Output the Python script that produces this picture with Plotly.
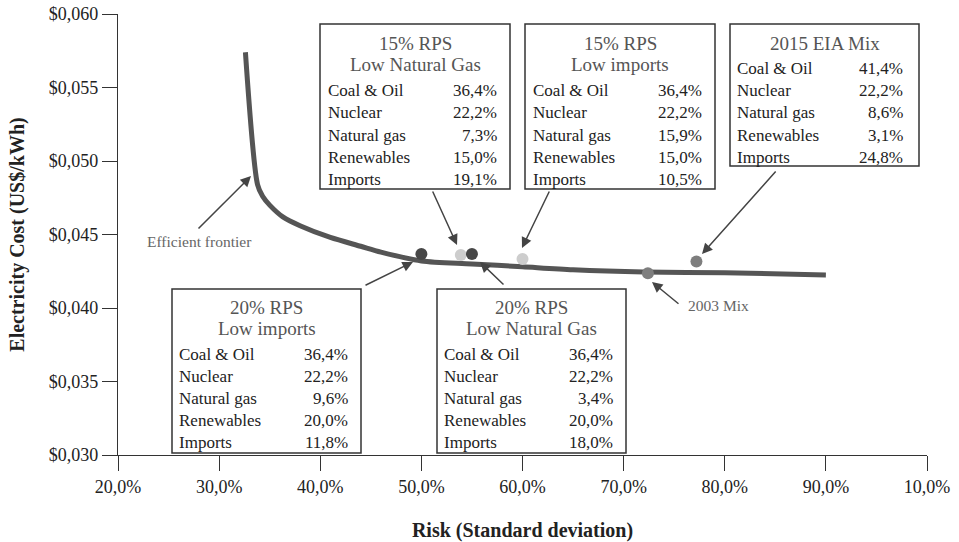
import plotly.graph_objects as go

# Efficient frontier (risk %, cost US$/kWh)
frontier_risk = [32.6, 33.8, 34.3, 35.0, 36.3, 38.0, 41.0, 44.0, 46.0, 50.0,
                 55.0, 60.0, 65.0, 72.0, 80.0, 90.0]
frontier_cost = [0.0574, 0.0484, 0.0476, 0.0470, 0.0462, 0.0456, 0.0448, 0.0442,
                 0.0438, 0.0432, 0.0430, 0.0428, 0.0426, 0.04245, 0.0424, 0.04225]

# Generation mixes
mix_names = ["20% RPS Low imports", "15% RPS Low Natural Gas", "20% RPS Low Natural Gas",
             "15% RPS Low imports", "2003 Mix", "2015 EIA Mix"]
mix_risk = [50.0, 53.9, 55.0, 60.0, 72.4, 77.2]
mix_cost = [0.04368, 0.04361, 0.04368, 0.04334, 0.04237, 0.04316]
mix_colors = ["#474747", "#cdcdcd", "#474747", "#cdcdcd", "#7e7e7e", "#7e7e7e"]

# Mix composition tables
sources = ["Coal & Oil", "Nuclear", "Natural gas", "Renewables", "Imports"]
share_15_low_gas = ["36,4%", "22,2%", "7,3%", "15,0%", "19,1%"]
share_15_low_imports = ["36,4%", "22,2%", "15,9%", "15,0%", "10,5%"]
share_2015_eia = ["41,4%", "22,2%", "8,6%", "3,1%", "24,8%"]
share_20_low_imports = ["36,4%", "22,2%", "9,6%", "20,0%", "11,8%"]
share_20_low_gas = ["36,4%", "22,2%", "3,4%", "20,0%", "18,0%"]

# Axis ticks
x_ticks = [20, 30, 40, 50, 60, 70, 80, 90, 100]
x_tick_text = ["20,0%", "30,0%", "40,0%", "50,0%", "60,0%", "70,0%", "80,0%", "90,0%", "10,0%"]
y_ticks = [0.030, 0.035, 0.040, 0.045, 0.050, 0.055, 0.060]
y_tick_text = ["$0,030", "$0,035", "$0,040", "$0,045", "$0,050", "$0,055", "$0,060"]

W, H = 959, 542
ML, MR, MT, MB = 118, 32, 14, 87
X0, X1 = 20, 100
Y0, Y1 = 0.030, 0.060
L, R, T, B = ML, W - MR, MT, H - MB


def dx(px):
    return X0 + (px - L) / (R - L) * (X1 - X0)


def dy(py):
    return Y1 - (py - T) / (B - T) * (Y1 - Y0)


FONT = "Liberation Serif"
DARK = "#222222"
GREY = "#555555"

fig = go.Figure()
fig.add_trace(go.Scatter(
    x=frontier_risk, y=frontier_cost, mode="lines",
    line=dict(color="#555555", width=5, shape="spline", smoothing=0.8),
    hoverinfo="skip", showlegend=False))
fig.add_trace(go.Scatter(
    x=mix_risk, y=mix_cost, mode="markers", text=mix_names,
    marker=dict(color=mix_colors, size=12), showlegend=False))

shapes = []
annotations = []


def table_box(left, top, right, bottom, titles, title_ys, row_ys, label_x, value_x, values):
    shapes.append(dict(type="rect", xref="x", yref="y",
                       x0=dx(left), x1=dx(right), y0=dy(bottom), y1=dy(top),
                       line=dict(color="#333333", width=1.5), fillcolor="white", layer="above"))
    for t, ty in zip(titles, title_ys):
        annotations.append(dict(x=dx((left + right) / 2), y=dy(ty), xref="x", yref="y",
                                text=t, showarrow=False, xanchor="center", yanchor="middle",
                                font=dict(family=FONT, size=19, color=GREY)))
    for s, v, ry in zip(sources, values, row_ys):
        annotations.append(dict(x=dx(label_x), y=dy(ry), xref="x", yref="y", text=s,
                                showarrow=False, xanchor="left", yanchor="middle",
                                font=dict(family=FONT, size=17, color=DARK)))
        annotations.append(dict(x=dx(value_x), y=dy(ry), xref="x", yref="y", text=v,
                                showarrow=False, xanchor="right", yanchor="middle",
                                font=dict(family=FONT, size=17, color=DARK)))


top_rows = [90, 112.5, 135, 157, 179]
table_box(320, 24, 510, 189, ["15% RPS", "Low Natural Gas"], [43, 64], top_rows,
          326, 499, share_15_low_gas)
table_box(525, 24, 715, 189, ["15% RPS", "Low imports"], [43, 64], top_rows,
          531, 704, share_15_low_imports)
table_box(730, 24, 919, 166, ["2015 EIA Mix"], [43], [68, 90, 112.5, 135, 157],
          735, 905, share_2015_eia)
bottom_rows = [354, 376, 398.5, 420.5, 442]
table_box(172, 289, 361, 453, ["20% RPS", "Low imports"], [307, 328.5], bottom_rows,
          177, 350, share_20_low_imports)
table_box(437, 289, 626, 453, ["20% RPS", "Low Natural Gas"], [307, 328.5], bottom_rows,
          442, 615, share_20_low_gas)


def arrow(head_px, head_py, ax, ay):
    annotations.append(dict(x=dx(head_px), y=dy(head_py), xref="x", yref="y", text="",
                            showarrow=True, ax=ax, ay=ay, arrowhead=2, arrowsize=1.4,
                            arrowwidth=1.5, arrowcolor="#444444"))


arrow(251, 176, -54, 54)    # efficient frontier
arrow(413, 262, -49, 24)    # 20% RPS low imports
arrow(457, 245, -25, -55)   # 15% RPS low natural gas
arrow(522, 248, 28, -58)    # 15% RPS low imports
arrow(480, 262, 25, 24)     # 20% RPS low natural gas
arrow(702, 254, 75, -84)    # 2015 EIA mix
arrow(652, 282, 28, 23)     # 2003 mix

annotations.append(dict(x=dx(145), y=dy(241), xref="x", yref="y", text="Efficient frontier",
                        showarrow=False, xanchor="left", yanchor="middle",
                        font=dict(family=FONT, size=15.5, color="#666666")))
annotations.append(dict(x=dx(686), y=dy(305), xref="x", yref="y", text="2003 Mix",
                        showarrow=False, xanchor="left", yanchor="middle",
                        font=dict(family=FONT, size=15.5, color="#666666")))

fig.update_layout(
    width=W, height=H,
    margin=dict(l=ML, r=MR, t=MT, b=MB),
    paper_bgcolor="white", plot_bgcolor="white",
    font=dict(family=FONT, color=DARK),
    shapes=shapes, annotations=annotations,
    xaxis=dict(range=[X0, X1], tickvals=x_ticks, ticktext=x_tick_text, automargin=False,
               showgrid=False, zeroline=False, showline=True, linecolor="#333333",
               linewidth=1.2, ticks="outside", ticklen=15, tickcolor="#333333",
               tickfont=dict(family=FONT, size=18, color=DARK),
               title=dict(text="<b>Risk (Standard deviation)</b>", standoff=27,
                          font=dict(family=FONT, size=20, color=DARK))),
    yaxis=dict(range=[Y0, Y1], tickvals=y_ticks, ticktext=y_tick_text, automargin=False,
               showgrid=False, zeroline=False, showline=True, linecolor="#333333",
               linewidth=1.2, ticks="outside", ticklen=15, tickcolor="#333333",
               tickfont=dict(family=FONT, size=18, color=DARK),
               title=dict(text="<b>Electricity Cost (US$/kWh)</b>", standoff=18,
                          font=dict(family=FONT, size=20, color=DARK))),
)

fig.write_html("out.html")
